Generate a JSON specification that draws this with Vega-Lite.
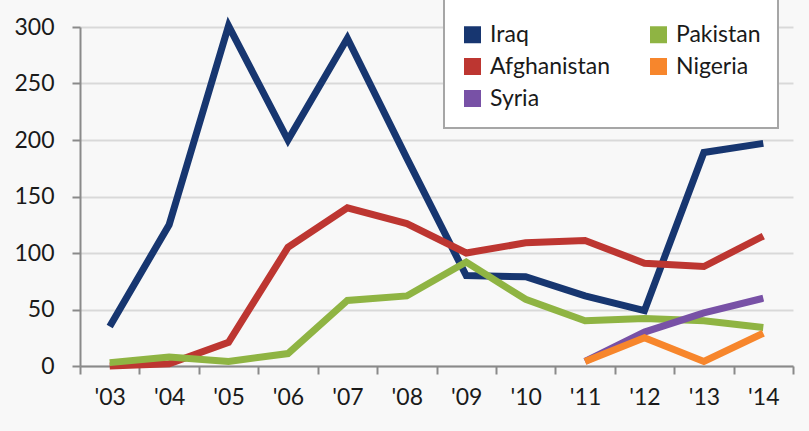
{
  "$schema": "https://vega.github.io/schema/vega-lite/v6.json",
  "width": 713,
  "height": 339,
  "autosize": {"type": "none"},
  "padding": {"left": 80, "top": 27, "right": 16, "bottom": 65},
  "background": "#f8f8f8",
  "data": {
    "values": [
      {"year": "'03", "country": "Iraq", "value": 35},
      {"year": "'04", "country": "Iraq", "value": 125},
      {"year": "'05", "country": "Iraq", "value": 301},
      {"year": "'06", "country": "Iraq", "value": 200},
      {"year": "'07", "country": "Iraq", "value": 290},
      {"year": "'08", "country": "Iraq", "value": 184},
      {"year": "'09", "country": "Iraq", "value": 80},
      {"year": "'10", "country": "Iraq", "value": 79},
      {"year": "'11", "country": "Iraq", "value": 62},
      {"year": "'12", "country": "Iraq", "value": 49},
      {"year": "'13", "country": "Iraq", "value": 189},
      {"year": "'14", "country": "Iraq", "value": 197},
      {"year": "'03", "country": "Afghanistan", "value": 0},
      {"year": "'04", "country": "Afghanistan", "value": 2},
      {"year": "'05", "country": "Afghanistan", "value": 21},
      {"year": "'06", "country": "Afghanistan", "value": 105},
      {"year": "'07", "country": "Afghanistan", "value": 140},
      {"year": "'08", "country": "Afghanistan", "value": 126},
      {"year": "'09", "country": "Afghanistan", "value": 100},
      {"year": "'10", "country": "Afghanistan", "value": 109},
      {"year": "'11", "country": "Afghanistan", "value": 111},
      {"year": "'12", "country": "Afghanistan", "value": 91},
      {"year": "'13", "country": "Afghanistan", "value": 88},
      {"year": "'14", "country": "Afghanistan", "value": 115},
      {"year": "'03", "country": "Pakistan", "value": 3},
      {"year": "'04", "country": "Pakistan", "value": 8},
      {"year": "'05", "country": "Pakistan", "value": 4},
      {"year": "'06", "country": "Pakistan", "value": 11},
      {"year": "'07", "country": "Pakistan", "value": 58},
      {"year": "'08", "country": "Pakistan", "value": 62},
      {"year": "'09", "country": "Pakistan", "value": 92},
      {"year": "'10", "country": "Pakistan", "value": 59},
      {"year": "'11", "country": "Pakistan", "value": 40},
      {"year": "'12", "country": "Pakistan", "value": 42},
      {"year": "'13", "country": "Pakistan", "value": 40},
      {"year": "'14", "country": "Pakistan", "value": 34},
      {"year": "'11", "country": "Syria", "value": 4},
      {"year": "'12", "country": "Syria", "value": 30},
      {"year": "'13", "country": "Syria", "value": 47},
      {"year": "'14", "country": "Syria", "value": 60},
      {"year": "'11", "country": "Nigeria", "value": 4},
      {"year": "'12", "country": "Nigeria", "value": 25},
      {"year": "'13", "country": "Nigeria", "value": 4},
      {"year": "'14", "country": "Nigeria", "value": 29}
    ]
  },
  "mark": {"type": "line", "strokeWidth": 7, "strokeJoin": "miter", "strokeCap": "butt", "clip": false},
  "encoding": {
    "x": {
      "field": "year",
      "type": "ordinal",
      "bandPosition": 0.5,
      "sort": null,
      "scale": {"type": "band", "paddingInner": 0, "paddingOuter": 0},
      "axis": {
        "title": null,
        "labelAngle": 0,
        "tickBand": "extent",
        "grid": false,
        "domainColor": "#8a8a8a",
        "domainWidth": 2,
        "tickColor": "#8a8a8a",
        "tickWidth": 2,
        "tickSize": 8,
        "labelPadding": 12,
        "labelFont": "Lato",
        "labelFontSize": 23,
        "labelColor": "#1a1a1a"
      }
    },
    "y": {
      "field": "value",
      "type": "quantitative",
      "scale": {"domain": [0, 300], "nice": false},
      "axis": {
        "title": null,
        "values": [0, 50, 100, 150, 200, 250, 300],
        "gridColor": "#d9d9d9",
        "gridWidth": 2,
        "domainColor": "#8a8a8a",
        "domainWidth": 2,
        "tickColor": "#8a8a8a",
        "tickWidth": 2,
        "tickSize": 8,
        "labelPadding": 18,
        "labelFont": "Lato",
        "labelFontSize": 23,
        "labelColor": "#1a1a1a"
      }
    },
    "color": {
      "field": "country",
      "type": "nominal",
      "scale": {
        "domain": ["Iraq", "Afghanistan", "Syria", "Pakistan", "Nigeria"],
        "range": ["#173670", "#bd3631", "#7851a6", "#8fb443", "#f7862c"]
      },
      "legend": {
        "orient": "none",
        "legendX": 364,
        "legendY": -49,
        "columns": 2,
        "title": " ",
        "titleFontSize": 20,
        "titlePadding": 8,
        "symbolType": "square",
        "symbolSize": 289,
        "symbolStrokeWidth": 0,
        "labelFont": "Lato",
        "labelFontSize": 23,
        "labelColor": "#1a1a1a",
        "labelOffset": 6,
        "rowPadding": 8,
        "columnPadding": 36,
        "padding": 17,
        "fillColor": "#ffffff",
        "strokeColor": "#a6a6a6",
        "encode": {
          "symbols": {"update": {"fill": {"scale": "color", "field": "value"}, "opacity": {"value": 1}}}
        }
      }
    }
  },
  "config": {"view": {"stroke": null}, "legend": {"strokeWidth": 2}}
}
